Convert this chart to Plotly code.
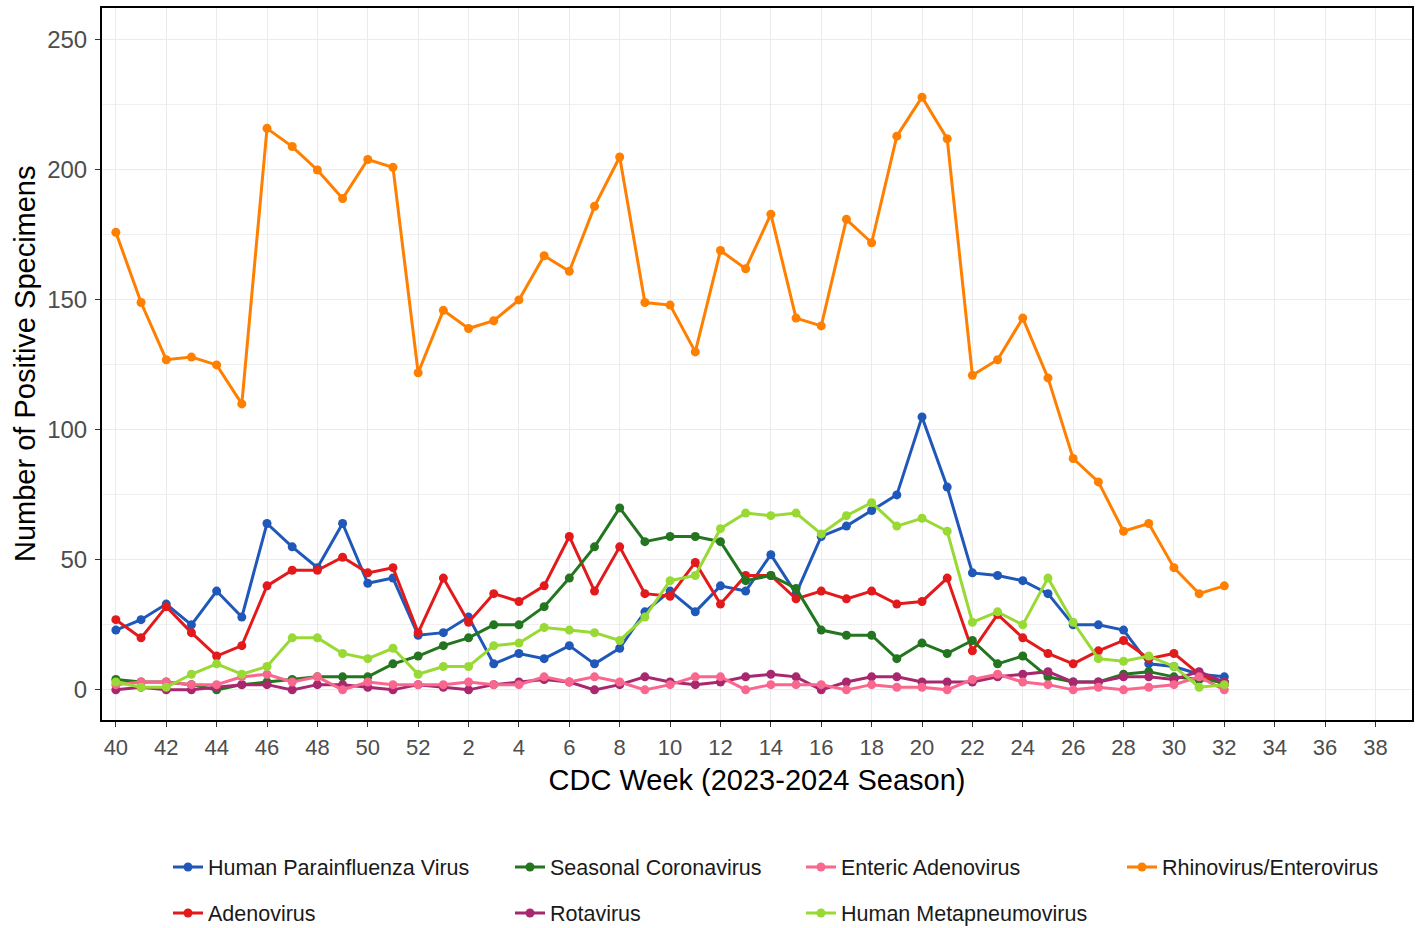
import plotly.graph_objects as go

# ---------------- data ----------------
weeks = list(range(40, 53)) + list(range(1, 33))          # observed CDC weeks
season_weeks = list(range(40, 53)) + list(range(1, 39))   # full axis extent
tick_weeks = [40, 42, 44, 46, 48, 50, 52, 2, 4, 6, 8, 10, 12, 14, 16, 18,
              20, 22, 24, 26, 28, 30, 32, 34, 36, 38]
tick_labels = [str(w) for w in tick_weeks]

hpiv = [23, 27, 33, 25, 38, 28, 64, 55, 47, 64, 41, 43, 21, 22, 28, 10, 14, 12,
        17, 10, 16, 30, 38, 30, 40, 38, 52, 37, 59, 63, 69, 75, 105, 78, 45, 44,
        42, 37, 25, 25, 23, 10, 9, 6, 5]
adeno = [27, 20, 32, 22, 13, 17, 40, 46, 46, 51, 45, 47, 22, 43, 26, 37, 34, 40,
         59, 38, 55, 37, 36, 49, 33, 44, 44, 35, 38, 35, 38, 33, 34, 43, 15, 29,
         20, 14, 10, 15, 19, 12, 14, 6, 2]
scov = [4, 3, 3, 2, 0, 2, 3, 4, 5, 5, 5, 10, 13, 17, 20, 25, 25, 32, 43, 55, 70,
        57, 59, 59, 57, 42, 44, 39, 23, 21, 21, 12, 18, 14, 19, 10, 13, 5, 3, 3,
        6, 7, 5, 4, 3]
rota = [0, 1, 0, 0, 1, 2, 2, 0, 2, 2, 1, 0, 2, 1, 0, 2, 3, 4, 3, 0, 2, 5, 3, 2,
        3, 5, 6, 5, 0, 3, 5, 5, 3, 3, 3, 5, 6, 7, 3, 3, 5, 5, 4, 7, 3]
ent_adeno = [2, 3, 3, 2, 2, 5, 6, 3, 5, 0, 3, 2, 2, 2, 3, 2, 2, 5, 3, 5, 3, 0, 2,
             5, 5, 0, 2, 2, 2, 0, 2, 1, 1, 0, 4, 6, 3, 2, 0, 1, 0, 1, 2, 5, 0]
hmpv = [3, 1, 1, 6, 10, 6, 9, 20, 20, 14, 12, 16, 6, 9, 9, 17, 18, 24, 23, 22, 19,
        28, 42, 44, 62, 68, 67, 68, 60, 67, 72, 63, 66, 61, 26, 30, 25, 43, 26, 12,
        11, 13, 9, 1, 2]
rhino = [176, 149, 127, 128, 125, 110, 216, 209, 200, 189, 204, 201, 122, 146, 139,
         142, 150, 167, 161, 186, 205, 149, 148, 130, 169, 162, 183, 143, 140, 181,
         172, 213, 228, 212, 121, 127, 143, 120, 89, 80, 61, 64, 47, 37, 40]

series = [
    ("Human Parainfluenza Virus", hpiv, "#1f58b8"),
    ("Adenovirus", adeno, "#e31a1c"),
    ("Seasonal Coronavirus", scov, "#23761f"),
    ("Rotavirus", rota, "#a8286f"),
    ("Enteric Adenovirus", ent_adeno, "#f9668e"),
    ("Human Metapneumovirus", hmpv, "#99d934"),
    ("Rhinovirus/Enterovirus", rhino, "#ff7f00"),
]

# ---------------- figure ----------------
x_pos = [season_weeks.index(w) for w in weeks]
tick_pos = [season_weeks.index(w) for w in tick_weeks]

FONT = "Liberation Sans, Arial, sans-serif"
W, H = 1421, 928
fig = go.Figure()

legend_ids = ["legend", "legend2", "legend3", "legend4", "legend5", "legend6", "legend7"]
for (name, vals, color), lid in zip(series, legend_ids):
    fig.add_trace(go.Scatter(
        x=x_pos, y=vals, mode="lines+markers", name=name,
        line=dict(color=color, width=3),
        marker=dict(color=color, size=9),
        legend=lid,
    ))

# legend placement (column / row), in pixels of the page
plot_l, plot_r, plot_t, plot_b = 102, 1412, 8, 720
text_x = [208, 208, 550, 550, 841, 841, 1162]
text_y = [867, 913, 867, 913, 867, 913, 867]

legend_layout = {}
for lid, tx, ty in zip(legend_ids, text_x, text_y):
    legend_layout[lid] = dict(
        xref="container", yref="container",
        x=(tx - 40) / W, y=(H - ty) / H,
        xanchor="left", yanchor="middle", orientation="v",
        bgcolor="rgba(0,0,0,0)", borderwidth=0,
        font=dict(family=FONT, size=21.5, color="#1a1a1a"),
    )

fig.update_layout(
    width=W, height=H,
    margin=dict(l=plot_l, r=W - plot_r, t=plot_t, b=H - plot_b, autoexpand=False),
    paper_bgcolor="white", plot_bgcolor="white",
    showlegend=True,
    font=dict(family=FONT),
    annotations=[dict(
        text="Number of Positive Specimens", textangle=-90,
        xref="paper", yref="paper", x=0, y=0.5,
        xanchor="center", yanchor="middle", xshift=25 - plot_l,
        showarrow=False,
        font=dict(family=FONT, size=29, color="black"),
    )],
    **legend_layout,
)

fig.update_xaxes(
    automargin=False,
    range=[-0.55, 51.45],
    tickmode="array", tickvals=tick_pos, ticktext=tick_labels,
    tickfont=dict(family=FONT, size=22, color="#4d4d4d"),
    ticks="outside", ticklen=5, tickcolor="#333333", tickwidth=1,
    ticklabelstandoff=2,
    showgrid=True, gridcolor="#ebebeb", gridwidth=1,
    zeroline=False,
    showline=True, mirror=True, linecolor="black", linewidth=2,
    title=dict(text="CDC Week (2023-2024 Season)",
               font=dict(family=FONT, size=29, color="black"), standoff=10),
)
fig.update_yaxes(
    automargin=False,
    range=[-11.6, 262.3],
    tickmode="array", tickvals=[0, 50, 100, 150, 200, 250],
    tickfont=dict(family=FONT, size=24, color="#4d4d4d"),
    ticks="outside", ticklen=5, tickcolor="#333333", tickwidth=1,
    ticklabelstandoff=3,
    showgrid=True, gridcolor="#ebebeb", gridwidth=1,
    minor=dict(tickmode="array", tickvals=[25, 75, 125, 175, 225],
               showgrid=True, gridcolor="#f0f0f0", gridwidth=1, ticks=""),
    zeroline=False,
    showline=True, mirror=True, linecolor="black", linewidth=2,
)

fig.write_html(
    "out.html",
    config={"displayModeBar": False},
    post_script=(
        "document.body.style.margin='0px';"
        "document.body.style.padding='0px';"
        "document.body.style.overflow='hidden';"
        "document.documentElement.style.overflow='hidden';"
    ),
)
